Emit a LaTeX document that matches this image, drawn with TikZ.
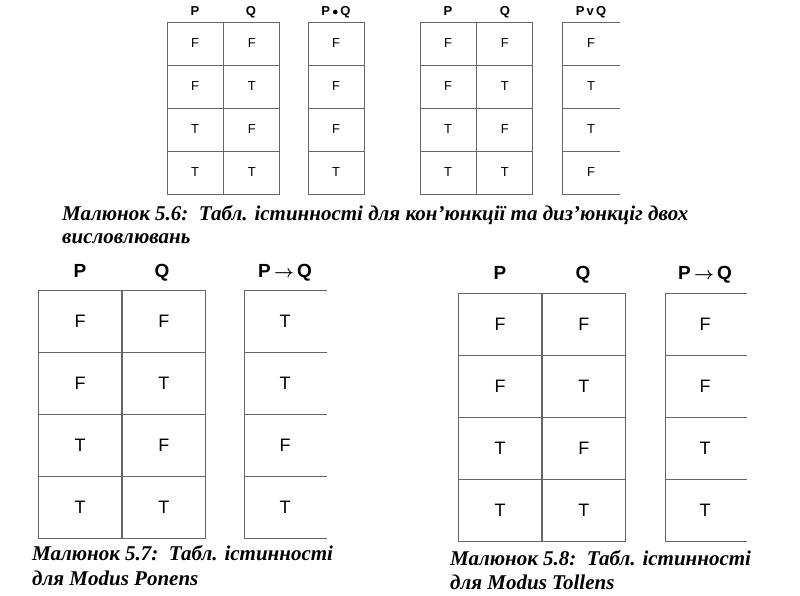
\documentclass[tikz,border=0pt]{standalone}
\usepackage{amsmath}
\usepackage{fontspec}
\setmainfont{Liberation Serif}
\newfontfamily\cellfont{Liberation Sans}
\usetikzlibrary{positioning}
\tikzstyle{cell} = [rectangle, draw=black!60, line width=0.8pt, inner sep=0pt, font=\cellfont]
\tikzstyle{head} = [font=\cellfont\bfseries, inner sep=0pt, anchor=base]
\tikzstyle{caption} = [font=\bfseries\itshape\fontsize{21}{24}\selectfont, anchor=west, inner sep=0pt]
\tikzstyle{openline} = [draw=black!60, line width=0.8pt]

\begin{document}
\begin{tikzpicture}[x=1pt, y=-1pt]
	\useasboundingbox (0,0) rectangle (800,595);

	% top left: conjunction
	\foreach \p/\q/\r [count=\i] in {F/F/F, F/T/F, T/F/F, T/T/T} {
		\node (cp\i) [cell, minimum width=56pt, minimum height=43pt, font=\cellfont\fontsize{13}{15}\selectfont] at (195, 22+21.5+43*\i-43) {\p};
		\node (cq\i) [cell, minimum width=56pt, minimum height=43pt, font=\cellfont\fontsize{13}{15}\selectfont, right=0pt of cp\i] {\q};
		\node (cr\i) [cell, minimum width=56pt, minimum height=43pt, font=\cellfont\fontsize{13}{15}\selectfont] at (336, 22+21.5+43*\i-43) {\r};
	}
	\node (cP) [head, font=\cellfont\bfseries\fontsize{13}{15}\selectfont] at (195, 15) {P};
	\node (cQ) [head, font=\cellfont\bfseries\fontsize{13}{15}\selectfont] at (251, 15) {Q};
	\node (cPQ) [head, font=\cellfont\bfseries\fontsize{13}{15}\selectfont] at (336, 15) {P\,$\bullet$\,Q};

	% top right: disjunction
	\foreach \p/\q/\r [count=\i] in {F/F/F, F/T/T, T/F/T, T/T/F} {
		\node (dp\i) [cell, minimum width=56pt, minimum height=43pt, font=\cellfont\fontsize{13}{15}\selectfont] at (448, 22+21.5+43*\i-43) {\p};
		\node (dq\i) [cell, minimum width=56pt, minimum height=43pt, font=\cellfont\fontsize{13}{15}\selectfont, right=0pt of dp\i] {\q};
		\node (dr\i) [font=\cellfont\fontsize{13}{15}\selectfont] at (591, 22+21.5+43*\i-43) {\r};
		\draw [openline] (562, 22+43*\i-43) -- ++(58, 0);
		\draw [openline] (562, 22+43*\i-43) -- ++(0, 43);
	}
	\draw [openline] (562, 194) -- ++(58, 0);
	\node (dP) [head, font=\cellfont\bfseries\fontsize{13}{15}\selectfont] at (448, 15) {P};
	\node (dQ) [head, font=\cellfont\bfseries\fontsize{13}{15}\selectfont] at (505, 15) {Q};
	\node (dPQ) [head, font=\cellfont\bfseries\fontsize{13}{15}\selectfont] at (591, 15) {P\,v\,Q};

	\node (cap56) [caption] at (62, 215) {Малюнок 5.6:\ \ Табл. істинності для кон’юнкції та диз’юнкціг двох};
	\node (cap56b) [caption] at (62, 239) {висловлювань};

	% bottom left: modus ponens
	\foreach \p/\q/\r [count=\i] in {F/F/T, F/T/T, T/F/F, T/T/T} {
		\node (mp\i) [cell, minimum width=83pt, minimum height=62pt, font=\cellfont\fontsize{18}{21}\selectfont] at (80, 228+31+62*\i) {\p};
		\node (mq\i) [cell, minimum width=83pt, minimum height=62pt, font=\cellfont\fontsize{18}{21}\selectfont, right=0pt of mp\i] {\q};
		\node (mr\i) [font=\cellfont\fontsize{18}{21}\selectfont] at (285, 228+31+62*\i) {\r};
		\draw [openline] (244, 228+62*\i) -- ++(83, 0);
		\draw [openline] (244, 228+62*\i) -- ++(0, 62);
	}
	\draw [openline] (244, 538) -- ++(83, 0);
	\node (mP) [head, font=\cellfont\bfseries\fontsize{19}{22}\selectfont] at (80, 277) {P};
	\node (mQ) [head, font=\cellfont\bfseries\fontsize{19}{22}\selectfont] at (162, 277) {Q};
	\node (mPQ) [head, font=\cellfont\bfseries\fontsize{19}{22}\selectfont] at (285, 277) {P\,$\boldsymbol{\rightarrow}$\,Q};

	\node (cap57) [caption] at (32, 553) {Малюнок 5.7:\ \ Табл. істинності};
	\node (cap57b) [caption] at (32, 578) {для Modus Ponens};

	% bottom right: modus tollens
	\foreach \p/\q/\r [count=\i] in {F/F/F, F/T/F, T/F/T, T/T/T} {
		\node (tp\i) [cell, minimum width=83pt, minimum height=62pt, font=\cellfont\fontsize{18}{21}\selectfont] at (500, 231+31+62*\i) {\p};
		\node (tq\i) [cell, minimum width=83pt, minimum height=62pt, font=\cellfont\fontsize{18}{21}\selectfont, right=0pt of tp\i] {\q};
		\node (tr\i) [font=\cellfont\fontsize{18}{21}\selectfont] at (705, 231+31+62*\i) {\r};
		\draw [openline] (665, 231+62*\i) -- ++(82, 0);
		\draw [openline] (665, 231+62*\i) -- ++(0, 62);
	}
	\draw [openline] (665, 541) -- ++(82, 0);
	\node (tP) [head, font=\cellfont\bfseries\fontsize{19}{22}\selectfont] at (500, 279) {P};
	\node (tQ) [head, font=\cellfont\bfseries\fontsize{19}{22}\selectfont] at (583, 279) {Q};
	\node (tPQ) [head, font=\cellfont\bfseries\fontsize{19}{22}\selectfont] at (705, 279) {P\,$\boldsymbol{\rightarrow}$\,Q};

	\node (cap58) [caption] at (450, 558) {Малюнок 5.8:\ \ Табл. істинності};
	\node (cap58b) [caption] at (450, 582) {для Modus Tollens};

\end{tikzpicture}
\end{document}
